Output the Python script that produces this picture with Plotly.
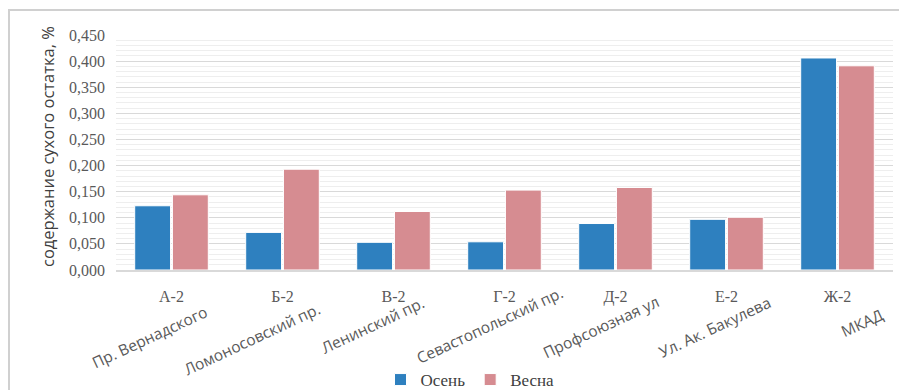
import plotly.graph_objects as go

codes = ["А-2", "Б-2", "В-2", "Г-2", "Д-2", "Е-2", "Ж-2"]
streets = ["Пр. Вернадского", "Ломоносовский пр.", "Ленинский пр.", "Севастопольский пр.",
           "Профсоюзная ул", "Ул. Ак. Бакулева", "МКАД"]
autumn = [0.123, 0.072, 0.053, 0.054, 0.089, 0.097, 0.406]
spring = [0.144, 0.193, 0.112, 0.153, 0.158, 0.101, 0.391]
y_ticks = [0, 0.05, 0.1, 0.15, 0.2, 0.25, 0.3, 0.35, 0.4, 0.45]
y_tick_text = ["0,000", "0,050", "0,100", "0,150", "0,200", "0,250", "0,300", "0,350", "0,400", "0,450"]

# label layout (pixel offsets / rows of rotated street names relative to category centre)
label_dx = [-22, -31, -21, -15, -15, -12, 24]
label_dy = [337, 339, 325, 325, 327, 327, 323]

# page is rendered with the default 8px body margin
OFF = 8
PW, PH = 907, 390
W, H = PW - OFF, PH - OFF
plot_left, plot_right, plot_top, plot_bottom = 116, 893, 35, 270   # page pixels
pw, ph = plot_right - plot_left, plot_bottom - plot_top

fig = go.Figure()
fig.add_bar(x=codes, y=autumn, name="Осень", marker=dict(color="#2e80bf", line=dict(color="white", width=1)))
fig.add_bar(x=codes, y=spring, name="Весна", marker=dict(color="#d68c91", line=dict(color="white", width=1)))

serif = "Liberation Serif, Times New Roman, serif"
sans = "Open Sans, Noto Sans, sans-serif"

def px(xp):
    return (xp - plot_left) / pw

def py(yp):
    return (plot_bottom - yp) / ph

for i, s in enumerate(streets):
    fig.add_annotation(x=codes[i], xref="x", y=py(label_dy[i]), yref="paper",
                       text=s, showarrow=False, textangle=-25, xshift=label_dx[i],
                       xanchor="center", yanchor="middle",
                       font=dict(family=sans, size=15.5, color="#595959"))

fig.add_annotation(x=px(47), xref="paper", y=py(147), yref="paper",
                   text="содержание сухого остатка, %", textangle=-90, showarrow=False,
                   xanchor="center", yanchor="middle",
                   font=dict(family=sans, size=16.5, color="#404040"))

# outer chart frame
fig.add_shape(type="line", xref="paper", yref="paper", x0=px(8), x1=px(PW + 5), y0=py(10), y1=py(10),
              line=dict(color="#d0d0d0", width=2))
fig.add_shape(type="line", xref="paper", yref="paper", x0=px(9), x1=px(9), y0=py(10), y1=py(PH + 5),
              line=dict(color="#d0d0d0", width=2))

fig.update_layout(
    width=W, height=H,
    margin=dict(l=plot_left - OFF, r=PW - plot_right, t=plot_top - OFF, b=PH - plot_bottom, autoexpand=False),
    paper_bgcolor="white", plot_bgcolor="white",
    barmode="group", bargap=0.32, bargroupgap=0.05,
    showlegend=True,
    legend=dict(orientation="h", x=px(470), xanchor="center", y=py(380), yanchor="middle",
                font=dict(family=serif, size=17, color="#404040"), itemwidth=30, tracegroupgap=0),
    xaxis=dict(range=[-0.5, 6.5], showgrid=False, showline=True, linecolor="#d9d9d9", linewidth=1.5,
               automargin=False,
               tickfont=dict(family=serif, size=16, color="#595959"), ticks="", ticklabelstandoff=11),
    yaxis=dict(range=[0, 0.45], tickvals=y_ticks, ticktext=y_tick_text, automargin=False,
               showgrid=True, gridcolor="#d9d9d9", gridwidth=1.2, zeroline=False,
               minor=dict(dtick=0.01, showgrid=True, gridcolor="#eeeeee", gridwidth=1),
               tickfont=dict(family=serif, size=16, color="#595959"), ticks="", ticklabelstandoff=10),
)

fig.write_html("out.html")
